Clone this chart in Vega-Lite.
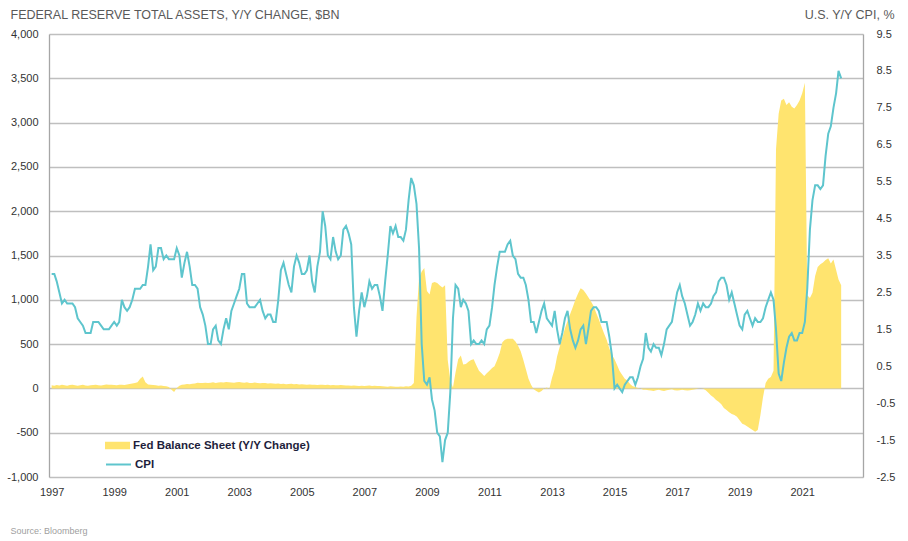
{
  "$schema": "https://vega.github.io/schema/vega-lite/v6.json",
  "autosize": {"type": "none"},
  "padding": {"left": 49, "top": 34, "right": 45, "bottom": 64},
  "width": 814,
  "height": 443,
  "background": "white",
  "config": {"view": {"stroke": null}, "font": "Liberation Sans"},
  "data": {"values": [
{"date":"1997-01-01","fed":35,"cpi":3.0},{"date":"1997-02-01","fed":30,"cpi":3.0},{"date":"1997-03-01","fed":38,"cpi":2.8},{"date":"1997-04-01","fed":32,"cpi":2.5},{"date":"1997-05-01","fed":40,"cpi":2.2},{"date":"1997-06-01","fed":35,"cpi":2.3},{"date":"1997-07-01","fed":30,"cpi":2.2},{"date":"1997-08-01","fed":38,"cpi":2.2},{"date":"1997-09-01","fed":42,"cpi":2.2},{"date":"1997-10-01","fed":35,"cpi":2.1},{"date":"1997-11-01","fed":30,"cpi":1.8},{"date":"1997-12-01","fed":36,"cpi":1.7},
{"date":"1998-01-01","fed":40,"cpi":1.6},{"date":"1998-02-01","fed":32,"cpi":1.4},{"date":"1998-03-01","fed":30,"cpi":1.4},{"date":"1998-04-01","fed":35,"cpi":1.4},{"date":"1998-05-01","fed":38,"cpi":1.7},{"date":"1998-06-01","fed":42,"cpi":1.7},{"date":"1998-07-01","fed":36,"cpi":1.7},{"date":"1998-08-01","fed":32,"cpi":1.6},{"date":"1998-09-01","fed":38,"cpi":1.5},{"date":"1998-10-01","fed":45,"cpi":1.5},{"date":"1998-11-01","fed":40,"cpi":1.5},{"date":"1998-12-01","fed":42,"cpi":1.6},
{"date":"1999-01-01","fed":38,"cpi":1.7},{"date":"1999-02-01","fed":35,"cpi":1.6},{"date":"1999-03-01","fed":40,"cpi":1.7},{"date":"1999-04-01","fed":42,"cpi":2.3},{"date":"1999-05-01","fed":38,"cpi":2.1},{"date":"1999-06-01","fed":45,"cpi":2.0},{"date":"1999-07-01","fed":50,"cpi":2.1},{"date":"1999-08-01","fed":55,"cpi":2.3},{"date":"1999-09-01","fed":60,"cpi":2.6},{"date":"1999-10-01","fed":70,"cpi":2.6},{"date":"1999-11-01","fed":110,"cpi":2.6},{"date":"1999-12-01","fed":135,"cpi":2.7},
{"date":"2000-01-01","fed":70,"cpi":2.7},{"date":"2000-02-01","fed":45,"cpi":3.2},{"date":"2000-03-01","fed":40,"cpi":3.8},{"date":"2000-04-01","fed":38,"cpi":3.1},{"date":"2000-05-01","fed":35,"cpi":3.2},{"date":"2000-06-01","fed":30,"cpi":3.7},{"date":"2000-07-01","fed":32,"cpi":3.7},{"date":"2000-08-01","fed":28,"cpi":3.4},{"date":"2000-09-01","fed":25,"cpi":3.5},{"date":"2000-10-01","fed":15,"cpi":3.4},{"date":"2000-11-01","fed":-15,"cpi":3.4},{"date":"2000-12-01","fed":-40,"cpi":3.4},
{"date":"2001-01-01","fed":5,"cpi":3.7},{"date":"2001-02-01","fed":30,"cpi":3.5},{"date":"2001-03-01","fed":40,"cpi":2.9},{"date":"2001-04-01","fed":45,"cpi":3.3},{"date":"2001-05-01","fed":50,"cpi":3.6},{"date":"2001-06-01","fed":48,"cpi":3.2},{"date":"2001-07-01","fed":52,"cpi":2.7},{"date":"2001-08-01","fed":55,"cpi":2.7},{"date":"2001-09-01","fed":65,"cpi":2.6},{"date":"2001-10-01","fed":60,"cpi":2.1},{"date":"2001-11-01","fed":62,"cpi":1.9},{"date":"2001-12-01","fed":65,"cpi":1.6},
{"date":"2002-01-01","fed":60,"cpi":1.1},{"date":"2002-02-01","fed":65,"cpi":1.1},{"date":"2002-03-01","fed":70,"cpi":1.5},{"date":"2002-04-01","fed":62,"cpi":1.6},{"date":"2002-05-01","fed":68,"cpi":1.2},{"date":"2002-06-01","fed":70,"cpi":1.1},{"date":"2002-07-01","fed":66,"cpi":1.5},{"date":"2002-08-01","fed":72,"cpi":1.8},{"date":"2002-09-01","fed":70,"cpi":1.5},{"date":"2002-10-01","fed":68,"cpi":2.0},{"date":"2002-11-01","fed":65,"cpi":2.2},{"date":"2002-12-01","fed":70,"cpi":2.4},
{"date":"2003-01-01","fed":72,"cpi":2.6},{"date":"2003-02-01","fed":68,"cpi":3.0},{"date":"2003-03-01","fed":65,"cpi":3.0},{"date":"2003-04-01","fed":70,"cpi":2.2},{"date":"2003-05-01","fed":60,"cpi":2.1},{"date":"2003-06-01","fed":62,"cpi":2.1},{"date":"2003-07-01","fed":66,"cpi":2.1},{"date":"2003-08-01","fed":60,"cpi":2.2},{"date":"2003-09-01","fed":58,"cpi":2.3},{"date":"2003-10-01","fed":62,"cpi":2.0},{"date":"2003-11-01","fed":60,"cpi":1.8},{"date":"2003-12-01","fed":55,"cpi":1.9},
{"date":"2004-01-01","fed":58,"cpi":1.9},{"date":"2004-02-01","fed":55,"cpi":1.7},{"date":"2004-03-01","fed":52,"cpi":1.7},{"date":"2004-04-01","fed":55,"cpi":2.3},{"date":"2004-05-01","fed":50,"cpi":3.1},{"date":"2004-06-01","fed":52,"cpi":3.3},{"date":"2004-07-01","fed":48,"cpi":3.0},{"date":"2004-08-01","fed":50,"cpi":2.7},{"date":"2004-09-01","fed":52,"cpi":2.5},{"date":"2004-10-01","fed":48,"cpi":3.2},{"date":"2004-11-01","fed":50,"cpi":3.5},{"date":"2004-12-01","fed":45,"cpi":3.3},
{"date":"2005-01-01","fed":48,"cpi":3.0},{"date":"2005-02-01","fed":45,"cpi":3.0},{"date":"2005-03-01","fed":42,"cpi":3.1},{"date":"2005-04-01","fed":45,"cpi":3.5},{"date":"2005-05-01","fed":40,"cpi":2.8},{"date":"2005-06-01","fed":42,"cpi":2.5},{"date":"2005-07-01","fed":38,"cpi":3.2},{"date":"2005-08-01","fed":40,"cpi":3.6},{"date":"2005-09-01","fed":42,"cpi":4.7},{"date":"2005-10-01","fed":38,"cpi":4.3},{"date":"2005-11-01","fed":40,"cpi":3.5},{"date":"2005-12-01","fed":36,"cpi":3.4},
{"date":"2006-01-01","fed":38,"cpi":4.0},{"date":"2006-02-01","fed":35,"cpi":3.6},{"date":"2006-03-01","fed":36,"cpi":3.4},{"date":"2006-04-01","fed":38,"cpi":3.5},{"date":"2006-05-01","fed":35,"cpi":4.2},{"date":"2006-06-01","fed":32,"cpi":4.3},{"date":"2006-07-01","fed":34,"cpi":4.1},{"date":"2006-08-01","fed":30,"cpi":3.8},{"date":"2006-09-01","fed":32,"cpi":2.1},{"date":"2006-10-01","fed":30,"cpi":1.3},{"date":"2006-11-01","fed":28,"cpi":2.0},{"date":"2006-12-01","fed":30,"cpi":2.5},
{"date":"2007-01-01","fed":28,"cpi":2.1},{"date":"2007-02-01","fed":30,"cpi":2.4},{"date":"2007-03-01","fed":32,"cpi":2.8},{"date":"2007-04-01","fed":28,"cpi":2.6},{"date":"2007-05-01","fed":30,"cpi":2.7},{"date":"2007-06-01","fed":26,"cpi":2.7},{"date":"2007-07-01","fed":28,"cpi":2.4},{"date":"2007-08-01","fed":25,"cpi":2.0},{"date":"2007-09-01","fed":22,"cpi":2.8},{"date":"2007-10-01","fed":20,"cpi":3.5},{"date":"2007-11-01","fed":25,"cpi":4.3},{"date":"2007-12-01","fed":22,"cpi":4.1},
{"date":"2008-01-01","fed":20,"cpi":4.3},{"date":"2008-02-01","fed":18,"cpi":4.0},{"date":"2008-03-01","fed":22,"cpi":4.0},{"date":"2008-04-01","fed":20,"cpi":3.9},{"date":"2008-05-01","fed":25,"cpi":4.2},{"date":"2008-06-01","fed":22,"cpi":5.0},{"date":"2008-07-01","fed":30,"cpi":5.6},{"date":"2008-08-01","fed":60,"cpi":5.4},{"date":"2008-09-01","fed":800,"cpi":4.9},{"date":"2008-10-01","fed":1250,"cpi":3.7},{"date":"2008-11-01","fed":1320,"cpi":1.1},{"date":"2008-12-01","fed":1360,"cpi":0.1},
{"date":"2009-01-01","fed":1100,"cpi":0.0},{"date":"2009-02-01","fed":1060,"cpi":0.2},{"date":"2009-03-01","fed":1190,"cpi":-0.4},{"date":"2009-04-01","fed":1200,"cpi":-0.7},{"date":"2009-05-01","fed":1190,"cpi":-1.3},{"date":"2009-06-01","fed":1160,"cpi":-1.4},{"date":"2009-07-01","fed":1140,"cpi":-2.1},{"date":"2009-08-01","fed":1165,"cpi":-1.5},{"date":"2009-09-01","fed":320,"cpi":-1.3},{"date":"2009-10-01","fed":90,"cpi":-0.2},{"date":"2009-11-01","fed":10,"cpi":1.8},{"date":"2009-12-01","fed":180,"cpi":2.7},
{"date":"2010-01-01","fed":330,"cpi":2.6},{"date":"2010-02-01","fed":370,"cpi":2.1},{"date":"2010-03-01","fed":270,"cpi":2.3},{"date":"2010-04-01","fed":275,"cpi":2.2},{"date":"2010-05-01","fed":300,"cpi":2.0},{"date":"2010-06-01","fed":320,"cpi":1.1},{"date":"2010-07-01","fed":330,"cpi":1.2},{"date":"2010-08-01","fed":260,"cpi":1.1},{"date":"2010-09-01","fed":200,"cpi":1.1},{"date":"2010-10-01","fed":170,"cpi":1.2},{"date":"2010-11-01","fed":140,"cpi":1.1},{"date":"2010-12-01","fed":170,"cpi":1.5},
{"date":"2011-01-01","fed":200,"cpi":1.6},{"date":"2011-02-01","fed":230,"cpi":2.1},{"date":"2011-03-01","fed":250,"cpi":2.7},{"date":"2011-04-01","fed":320,"cpi":3.2},{"date":"2011-05-01","fed":400,"cpi":3.6},{"date":"2011-06-01","fed":520,"cpi":3.6},{"date":"2011-07-01","fed":550,"cpi":3.6},{"date":"2011-08-01","fed":560,"cpi":3.8},{"date":"2011-09-01","fed":560,"cpi":3.9},{"date":"2011-10-01","fed":560,"cpi":3.5},{"date":"2011-11-01","fed":530,"cpi":3.4},{"date":"2011-12-01","fed":480,"cpi":3.0},
{"date":"2012-01-01","fed":420,"cpi":2.9},{"date":"2012-02-01","fed":320,"cpi":2.9},{"date":"2012-03-01","fed":220,"cpi":2.7},{"date":"2012-04-01","fed":110,"cpi":2.3},{"date":"2012-05-01","fed":40,"cpi":1.7},{"date":"2012-06-01","fed":-10,"cpi":1.7},{"date":"2012-07-01","fed":-30,"cpi":1.4},{"date":"2012-08-01","fed":-45,"cpi":1.7},{"date":"2012-09-01","fed":-30,"cpi":2.0},{"date":"2012-10-01","fed":0,"cpi":2.2},{"date":"2012-11-01","fed":10,"cpi":1.8},{"date":"2012-12-01","fed":-5,"cpi":1.7},
{"date":"2013-01-01","fed":120,"cpi":1.6},{"date":"2013-02-01","fed":220,"cpi":2.0},{"date":"2013-03-01","fed":360,"cpi":1.5},{"date":"2013-04-01","fed":470,"cpi":1.1},{"date":"2013-05-01","fed":570,"cpi":1.4},{"date":"2013-06-01","fed":680,"cpi":1.8},{"date":"2013-07-01","fed":760,"cpi":2.0},{"date":"2013-08-01","fed":840,"cpi":1.5},{"date":"2013-09-01","fed":920,"cpi":1.2},{"date":"2013-10-01","fed":1000,"cpi":1.0},{"date":"2013-11-01","fed":1070,"cpi":1.2},{"date":"2013-12-01","fed":1130,"cpi":1.5},
{"date":"2014-01-01","fed":1110,"cpi":1.6},{"date":"2014-02-01","fed":1070,"cpi":1.1},{"date":"2014-03-01","fed":1030,"cpi":1.5},{"date":"2014-04-01","fed":980,"cpi":2.0},{"date":"2014-05-01","fed":930,"cpi":2.1},{"date":"2014-06-01","fed":850,"cpi":2.1},{"date":"2014-07-01","fed":780,"cpi":2.0},{"date":"2014-08-01","fed":700,"cpi":1.7},{"date":"2014-09-01","fed":620,"cpi":1.7},{"date":"2014-10-01","fed":550,"cpi":1.7},{"date":"2014-11-01","fed":450,"cpi":1.3},{"date":"2014-12-01","fed":380,"cpi":0.8},
{"date":"2015-01-01","fed":330,"cpi":-0.1},{"date":"2015-02-01","fed":260,"cpi":0.0},{"date":"2015-03-01","fed":195,"cpi":-0.1},{"date":"2015-04-01","fed":150,"cpi":-0.2},{"date":"2015-05-01","fed":110,"cpi":0.0},{"date":"2015-06-01","fed":90,"cpi":0.1},{"date":"2015-07-01","fed":50,"cpi":0.2},{"date":"2015-08-01","fed":25,"cpi":0.2},{"date":"2015-09-01","fed":15,"cpi":0.0},{"date":"2015-10-01","fed":5,"cpi":0.2},{"date":"2015-11-01","fed":0,"cpi":0.5},{"date":"2015-12-01","fed":-15,"cpi":0.7},
{"date":"2016-01-01","fed":-15,"cpi":1.4},{"date":"2016-02-01","fed":-20,"cpi":1.0},{"date":"2016-03-01","fed":-25,"cpi":0.9},{"date":"2016-04-01","fed":-30,"cpi":1.1},{"date":"2016-05-01","fed":-20,"cpi":1.0},{"date":"2016-06-01","fed":-15,"cpi":1.0},{"date":"2016-07-01","fed":-25,"cpi":0.8},{"date":"2016-08-01","fed":-30,"cpi":1.1},{"date":"2016-09-01","fed":-20,"cpi":1.5},{"date":"2016-10-01","fed":-15,"cpi":1.6},{"date":"2016-11-01","fed":-10,"cpi":1.7},{"date":"2016-12-01","fed":-20,"cpi":2.1},
{"date":"2017-01-01","fed":-25,"cpi":2.5},{"date":"2017-02-01","fed":-20,"cpi":2.7},{"date":"2017-03-01","fed":-15,"cpi":2.4},{"date":"2017-04-01","fed":-20,"cpi":2.2},{"date":"2017-05-01","fed":-25,"cpi":1.9},{"date":"2017-06-01","fed":-20,"cpi":1.6},{"date":"2017-07-01","fed":-15,"cpi":1.7},{"date":"2017-08-01","fed":-10,"cpi":1.9},{"date":"2017-09-01","fed":-5,"cpi":2.2},{"date":"2017-10-01","fed":0,"cpi":2.0},{"date":"2017-11-01","fed":-5,"cpi":2.2},{"date":"2017-12-01","fed":-20,"cpi":2.1},
{"date":"2018-01-01","fed":-50,"cpi":2.1},{"date":"2018-02-01","fed":-80,"cpi":2.2},{"date":"2018-03-01","fed":-100,"cpi":2.4},{"date":"2018-04-01","fed":-130,"cpi":2.5},{"date":"2018-05-01","fed":-150,"cpi":2.8},{"date":"2018-06-01","fed":-180,"cpi":2.9},{"date":"2018-07-01","fed":-220,"cpi":2.9},{"date":"2018-08-01","fed":-245,"cpi":2.7},{"date":"2018-09-01","fed":-270,"cpi":2.3},{"date":"2018-10-01","fed":-290,"cpi":2.5},{"date":"2018-11-01","fed":-300,"cpi":2.2},{"date":"2018-12-01","fed":-320,"cpi":1.9},
{"date":"2019-01-01","fed":-360,"cpi":1.6},{"date":"2019-02-01","fed":-400,"cpi":1.5},{"date":"2019-03-01","fed":-410,"cpi":1.9},{"date":"2019-04-01","fed":-430,"cpi":2.0},{"date":"2019-05-01","fed":-450,"cpi":1.8},{"date":"2019-06-01","fed":-470,"cpi":1.6},{"date":"2019-07-01","fed":-490,"cpi":1.8},{"date":"2019-08-01","fed":-470,"cpi":1.7},{"date":"2019-09-01","fed":-300,"cpi":1.7},{"date":"2019-10-01","fed":-100,"cpi":1.8},{"date":"2019-11-01","fed":60,"cpi":2.1},{"date":"2019-12-01","fed":110,"cpi":2.3},
{"date":"2020-01-01","fed":130,"cpi":2.5},{"date":"2020-02-01","fed":200,"cpi":2.3},{"date":"2020-03-01","fed":2700,"cpi":1.5},{"date":"2020-04-01","fed":3100,"cpi":0.3},{"date":"2020-05-01","fed":3250,"cpi":0.1},{"date":"2020-06-01","fed":3270,"cpi":0.6},{"date":"2020-07-01","fed":3200,"cpi":1.0},{"date":"2020-08-01","fed":3230,"cpi":1.3},{"date":"2020-09-01","fed":3180,"cpi":1.4},{"date":"2020-10-01","fed":3160,"cpi":1.2},{"date":"2020-11-01","fed":3200,"cpi":1.2},{"date":"2020-12-01","fed":3250,"cpi":1.4},
{"date":"2021-01-01","fed":3330,"cpi":1.4},{"date":"2021-02-01","fed":3450,"cpi":1.7},{"date":"2021-03-01","fed":1050,"cpi":2.6},{"date":"2021-04-01","fed":1020,"cpi":4.2},{"date":"2021-05-01","fed":1080,"cpi":5.0},{"date":"2021-06-01","fed":1270,"cpi":5.4},{"date":"2021-07-01","fed":1370,"cpi":5.4},{"date":"2021-08-01","fed":1400,"cpi":5.3},{"date":"2021-09-01","fed":1420,"cpi":5.4},{"date":"2021-10-01","fed":1450,"cpi":6.2},{"date":"2021-11-01","fed":1470,"cpi":6.8},{"date":"2021-12-01","fed":1410,"cpi":7.0},
{"date":"2022-01-01","fed":1455,"cpi":7.5},{"date":"2022-02-01","fed":1335,"cpi":7.9},{"date":"2022-03-01","fed":1230,"cpi":8.5},{"date":"2022-04-01","fed":1165,"cpi":8.3}
  ]},
  "encoding": {
    "x": {
      "field": "date", "type": "temporal",
      "scale": {"type": "utc", "domain": [{"year": 1996, "month": 12, "date": 1, "utc": true}, {"year": 2022, "month": 12, "date": 12, "utc": true}]},
      "axis": {
        "values": [{"year":1997,"utc":true},{"year":1999,"utc":true},{"year":2001,"utc":true},{"year":2003,"utc":true},{"year":2005,"utc":true},{"year":2007,"utc":true},{"year":2009,"utc":true},{"year":2011,"utc":true},{"year":2013,"utc":true},{"year":2015,"utc":true},{"year":2017,"utc":true},{"year":2019,"utc":true},{"year":2021,"utc":true}],
        "format": "%Y", "formatType": "utc",
        "grid": false, "ticks": false, "domain": false,
        "labelFont": "Liberation Sans", "labelFontSize": 11, "labelColor": "#333333", "labelPadding": 9,
        "title": "Source: Bloomberg", "titleX": -39, "titleY": 53, "titleAlign": "left", "titleAnchor": "start", "titleBaseline": "middle",
        "titleFont": "Liberation Sans", "titleFontSize": 9, "titleFontWeight": "normal", "titleColor": "#A0A0A0"
      }
    }
  },
  "layer": [
    {
      "mark": {"type": "area", "fillOpacity": 1},
      "encoding": {
        "y": {
          "field": "fed", "type": "quantitative",
          "scale": {"domain": [-1000, 4000], "nice": false, "zero": false},
          "axis": {
            "orient": "left",
            "values": [-1000, -500, 0, 500, 1000, 1500, 2000, 2500, 3000, 3500, 4000],
            "format": ",.0f",
            "labelExpr": "replace(datum.label, '\u2212', '-')",
            "grid": true, "gridColor": "#BFBFBF", "gridWidth": 1.3,
            "ticks": false, "domain": true, "domainColor": "#A6A6A6", "domainWidth": 1.3,
            "labelFont": "Liberation Sans", "labelFontSize": 11, "labelColor": "#333333", "labelPadding": 11,
            "title": "FEDERAL RESERVE TOTAL ASSETS, Y/Y CHANGE, $BN",
            "titleAngle": 0, "titleAlign": "left", "titleBaseline": "middle", "titleX": -39, "titleY": -20,
            "titleFont": "Liberation Sans", "titleFontSize": 12.5, "titleFontWeight": "normal", "titleColor": "#595959"
          }
        },
        "fill": {
          "datum": "Fed Balance Sheet (Y/Y Change)",
          "type": "nominal",
          "scale": {"range": ["#FFE46F"]},
          "legend": {
            "title": null, "orient": "none", "legendX": 56, "legendY": 399,
            "symbolType": "M-1,-0.3H1V0.3H-1Z", "symbolSize": 625, "symbolStrokeWidth": 0, "symbolOpacity": 1,
            "labelFont": "Liberation Sans", "labelFontSize": 11.5, "labelFontWeight": "bold", "labelColor": "#1E1E3C", "labelOffset": 3, "labelLimit": 400, "padding": 0
          }
        }
      }
    },
    {
      "mark": {"type": "line", "strokeWidth": 2},
      "encoding": {
        "y": {
          "field": "cpi", "type": "quantitative",
          "scale": {"domain": [-2.5, 9.5], "nice": false, "zero": false},
          "axis": {
            "orient": "right",
            "values": [-2.5, -1.5, -0.5, 0.5, 1.5, 2.5, 3.5, 4.5, 5.5, 6.5, 7.5, 8.5, 9.5],
            "format": ".1f",
            "labelExpr": "replace(datum.label, '\u2212', '-')",
            "grid": false, "ticks": false, "domain": true, "domainColor": "#A6A6A6", "domainWidth": 1.3,
            "labelFont": "Liberation Sans", "labelFontSize": 11, "labelColor": "#333333", "labelPadding": 13,
            "title": "U.S. Y/Y CPI, %",
            "titleAngle": 0, "titleAlign": "right", "titleBaseline": "middle", "titleX": 31, "titleY": -20,
            "titleFont": "Liberation Sans", "titleFontSize": 12.5, "titleFontWeight": "normal", "titleColor": "#595959"
          }
        },
        "stroke": {
          "datum": "CPI",
          "type": "nominal",
          "scale": {"range": ["#5EC5CD"]},
          "legend": {
            "title": null, "orient": "none", "legendX": 56, "legendY": 417,
            "symbolType": "stroke", "symbolSize": 625, "symbolStrokeWidth": 2,
            "labelFont": "Liberation Sans", "labelFontSize": 11.5, "labelFontWeight": "bold", "labelColor": "#1E1E3C", "labelOffset": 3, "labelLimit": 400, "padding": 0
          }
        }
      }
    }
  ],
  "resolve": {"scale": {"y": "independent", "fill": "independent", "stroke": "independent"}}
}
